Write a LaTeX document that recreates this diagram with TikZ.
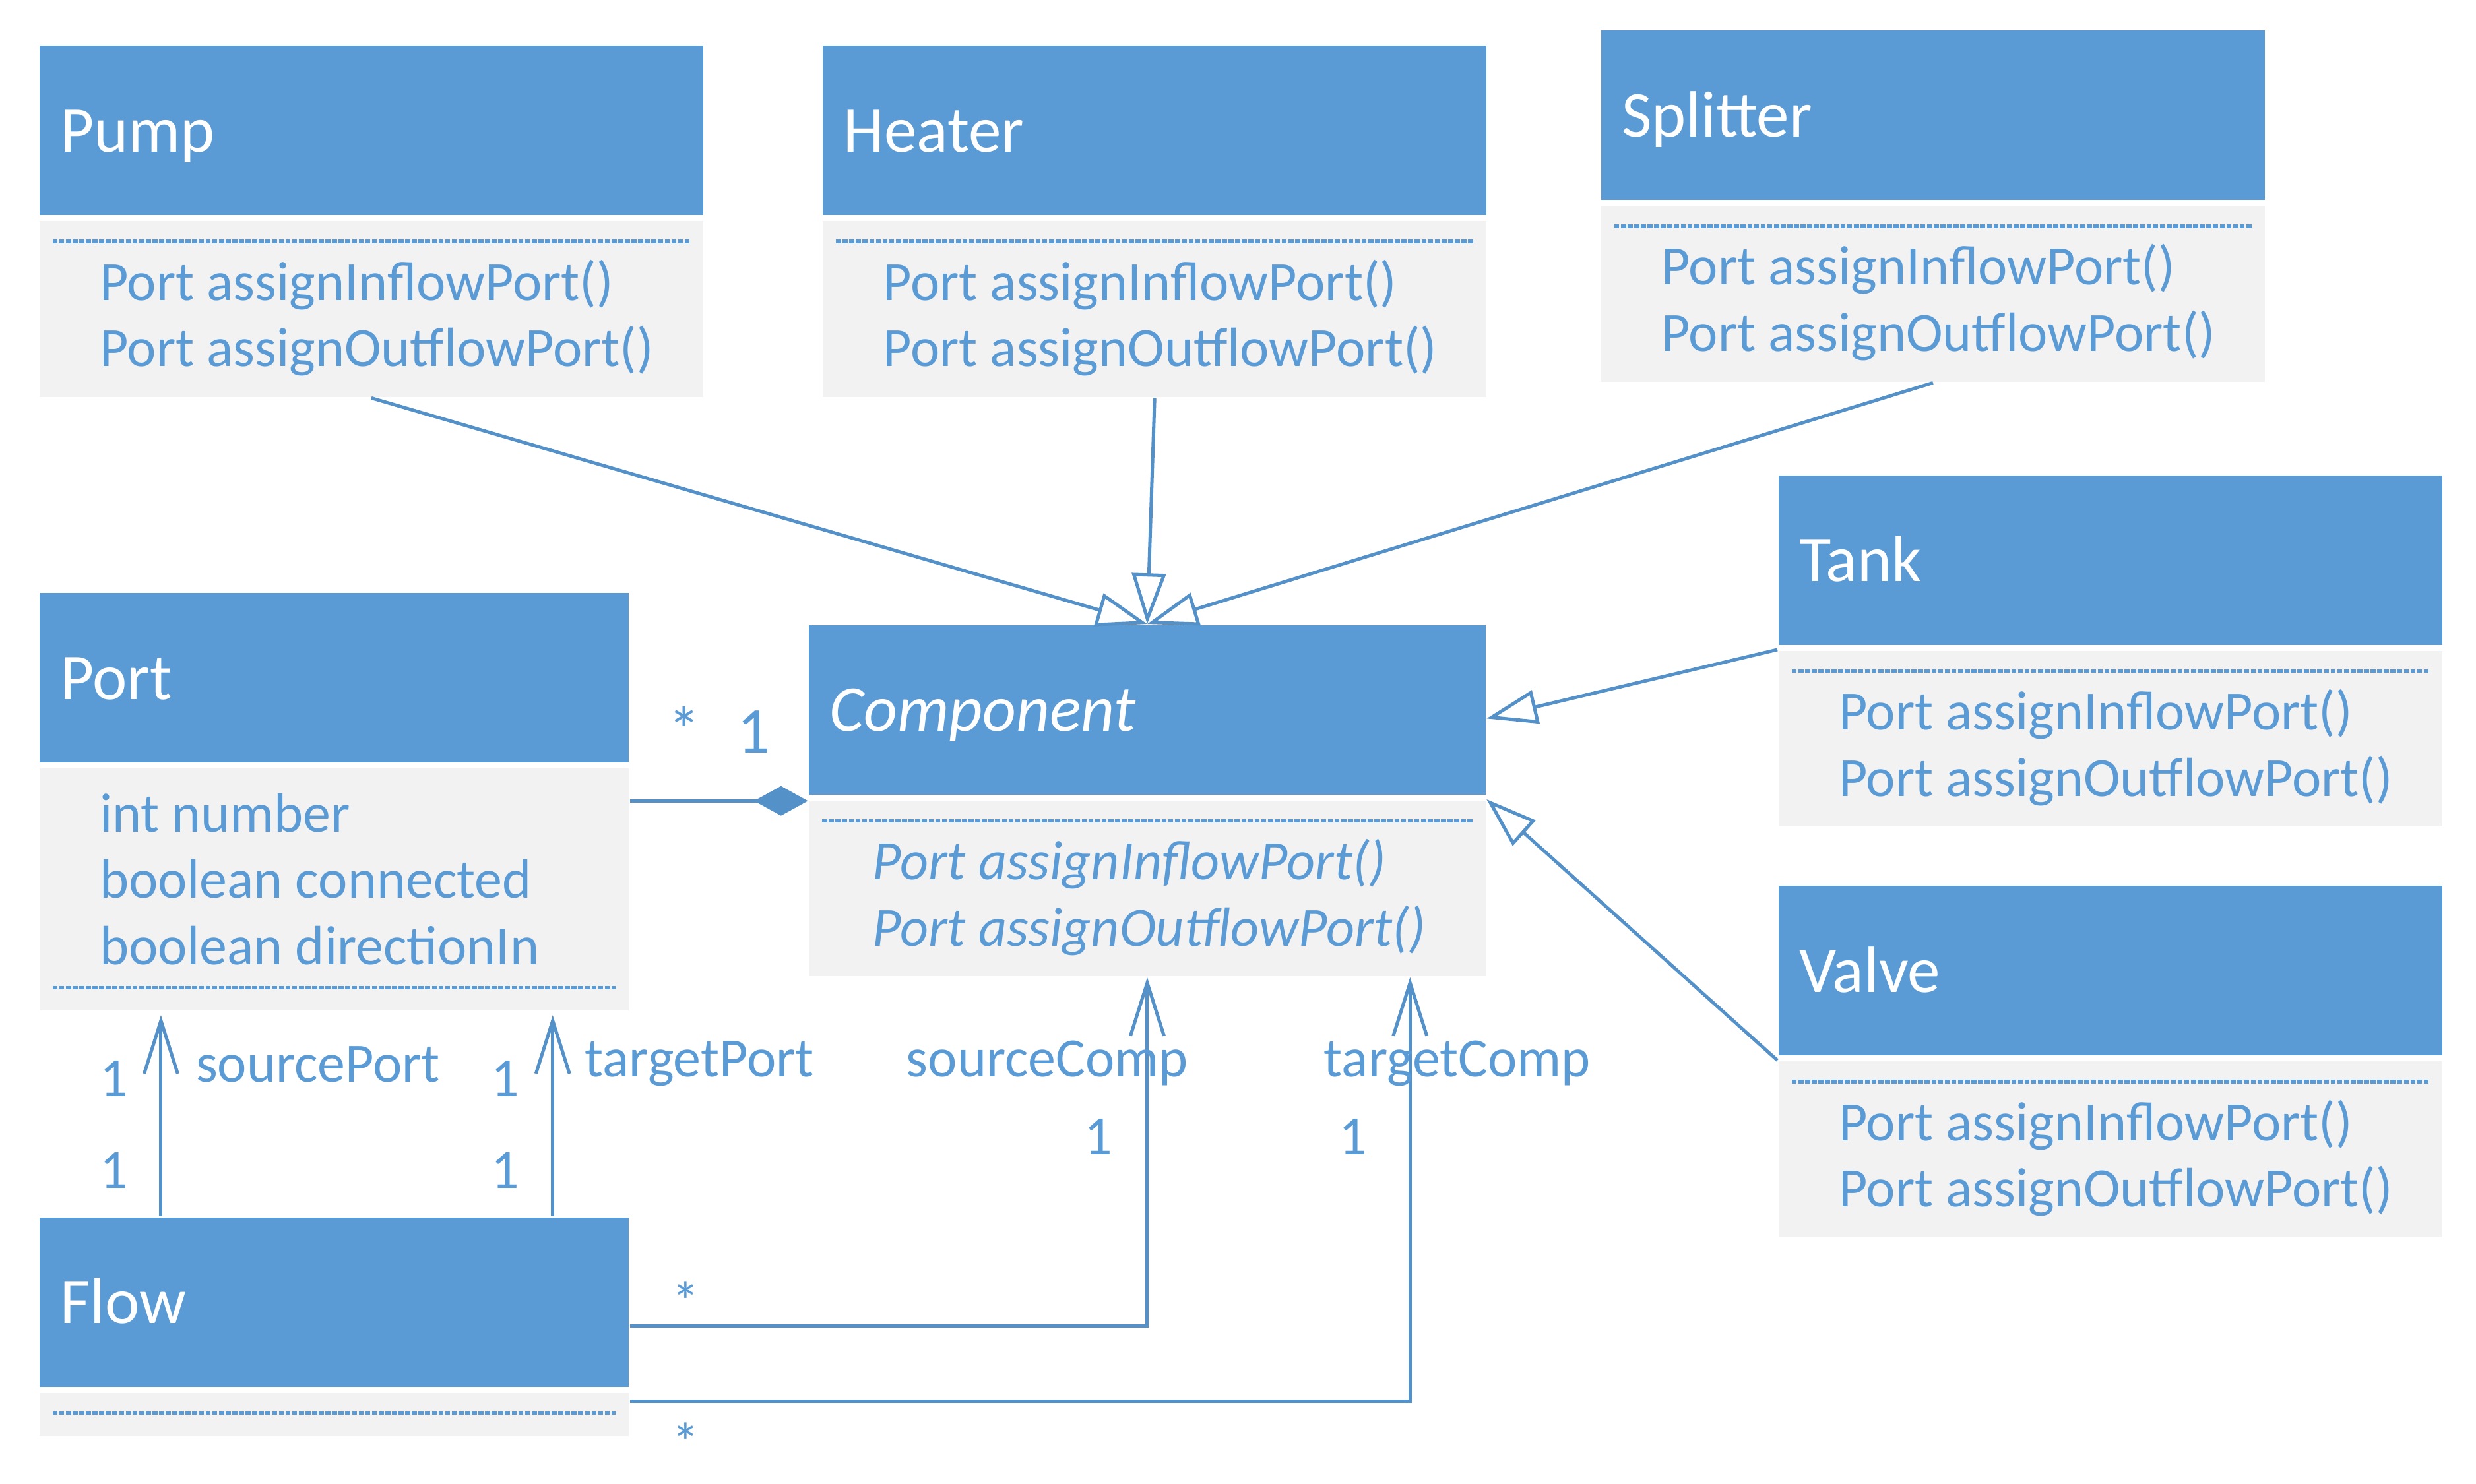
\documentclass[tikz,border=0pt]{standalone}
\usepackage{fontspec}
\setmainfont{Carlito}
\usetikzlibrary{positioning,arrows.meta}
\definecolor{umlblue}{HTML}{5B9BD5}
\definecolor{umlgray}{HTML}{F2F2F2}
\definecolor{umlline}{HTML}{5591C9}
\newcommand{\classfont}{\fontsize{11.75}{14}\selectfont}
\newcommand{\memberfont}{\fontsize{9.95}{12}\selectfont}

\begin{document}
\begin{tikzpicture}[x=0.1mm, y=-0.1mm,
  classhead/.style={fill=umlblue, text=white, font=\classfont, anchor=north west, align=left, inner xsep=1.3mm, inner ysep=0pt, minimum height=10.7mm, text height=2.7mm, text depth=0pt},
  classbody/.style={fill=umlgray, anchor=north west, inner sep=0pt},
  member/.style={anchor=base west, inner sep=0pt, text=umlblue, font=\memberfont},
  mult/.style={anchor=base, inner sep=0pt, text=umlblue, font=\memberfont},
  role/.style={anchor=base west, inner sep=0pt, text=umlblue, font=\memberfont},
  sep/.style={draw=umlblue, line width=0.22mm, dash pattern=on 0.32mm off 0.1mm},
  inherit/.style={draw=umlline, line width=0.21mm, -{Triangle[open, length=3.2mm, width=2.13mm]}},
  assoc/.style={draw=umlline, line width=0.21mm, -{Straight Barb[length=3.35mm, width=2.12mm]}},
  compose/.style={draw=umlline, line width=0.21mm, -{Diamond[length=3.4mm, width=1.87mm]}}
]
\useasboundingbox (0,0) rectangle (1563,937);

% the component kinds
\foreach \name/\x/\y in {Pump/24.2/28.2, Heater/518.7/28.2, Splitter/1010/18.6, Tank/1122/299.5, Valve/1122/558.8}{
  \node[classhead, text width=39.3mm] (\name) at (\x,\y) {\name};
  \node[classbody, minimum width=41.9mm, minimum height=11.1mm, below=0.23mm of \name.south west, anchor=north west] (\name-body) {};
  \draw[sep] ([shift={(0.9mm,-1.35mm)}]\name-body.north west) -- ([shift={(-0.9mm,-1.35mm)}]\name-body.north east);
  \node[member] (\name-in) at ([shift={(3.8mm,-5.06mm)}]\name-body.north west) {Port assignInflowPort()};
  \node[member] (\name-out) at ([shift={(3.8mm,-9.26mm)}]\name-body.north west) {Port assignOutflowPort()};
}

% Port
\node[classhead, text width=34.6mm] (Port) at (24.2,373.9) {Port};
\node[classbody, minimum width=37.2mm, minimum height=15.26mm, below=0.23mm of Port.south west, anchor=north west] (Port-body) {};
\node[member] (Port-a1) at ([shift={(3.8mm,-4.08mm)}]Port-body.north west) {int number};
\node[member] (Port-a2) at ([shift={(3.8mm,-8.25mm)}]Port-body.north west) {boolean connected};
\node[member] (Port-a3) at ([shift={(3.8mm,-12.45mm)}]Port-body.north west) {boolean directionIn};
\draw[sep] ([shift={(0.9mm,-13.9mm)}]Port-body.north west) -- ([shift={(-0.9mm,-13.9mm)}]Port-body.north east);

% Component
\node[classhead, text width=40.1mm, font=\classfont\itshape] (Comp) at (510,394) {Component};
\node[classbody, minimum width=42.7mm, minimum height=11.1mm, below=0.23mm of Comp.south west, anchor=north west] (Comp-body) {};
\draw[sep] ([shift={(0.9mm,-1.35mm)}]Comp-body.north west) -- ([shift={(-0.9mm,-1.35mm)}]Comp-body.north east);
\node[member, font=\memberfont\itshape] (Comp-in) at ([shift={(4mm,-5.06mm)}]Comp-body.north west) {Port assignInflowPort()};
\node[member, font=\memberfont\itshape] (Comp-out) at ([shift={(4mm,-9.26mm)}]Comp-body.north west) {Port assignOutflowPort()};

% Flow
\node[classhead, text width=34.6mm] (Flow) at (24.2,768) {Flow};
\node[classbody, minimum width=37.2mm, minimum height=2.72mm, below=0.23mm of Flow.south west, anchor=north west] (Flow-body) {};
\draw[sep] ([shift={(0.9mm,-1.37mm)}]Flow-body.north west) -- ([shift={(-0.9mm,-1.37mm)}]Flow-body.north east);

% generalisations
\draw[inherit] (Pump-body.south) -- (Comp.north);
\draw[inherit] (Heater-body.south) -- (Comp.north);
\draw[inherit] (Splitter-body.south) -- (Comp.north);
\draw[inherit] (Tank-body.north west) -- ([yshift=-0.55mm]Comp.east);
\draw[inherit] (Valve-body.north west) -- (Comp-body.north east);

\draw[compose] ([yshift=-0.1mm]Comp-body.north west -| Port-body.east) -- ([yshift=-0.1mm]Comp-body.north west);
\node[mult, font=\classfont] (m-many) at (432,475.2) {*};
\node[mult, font=\classfont] (m-one) at (476,475.5) {1};

% associations
\draw[assoc] ([xshift=7.74mm]Flow.north west) -- ([shift={(7.74mm,-0.24mm)}]Port-body.south west);
\draw[assoc] ([xshift=-4.87mm]Flow.north east) -- ([shift={(-4.87mm,-0.24mm)}]Port-body.south east);
\draw[assoc] ([yshift=-1.5mm]Flow.east) -| (Comp-body.south);
\draw[assoc] ([yshift=-0.59mm]Flow-body.north east) -| ([xshift=-4.83mm]Comp-body.south east);

\node[mult] (sp-1a) at (71.8,692.4) {1};
\node[mult] (sp-1b) at (71.8,750.4) {1};
\node[role] (sp) at (123,683) {sourcePort};
\node[mult] (tp-1a) at (319,692.4) {1};
\node[mult] (tp-1b) at (319,750.4) {1};
\node[role] (tp) at (368.5,680) {targetPort};
\node[role] (sc) at (571.5,680) {sourceComp};
\node[mult] (sc-1) at (693.5,729) {1};
\node[role] (tc) at (835,680) {targetComp};
\node[mult] (tc-1) at (854,729) {1};
\node[mult] (sc-n) at (433,834) {*};
\node[mult] (tc-n) at (433,923) {*};

\end{tikzpicture}
\end{document}
